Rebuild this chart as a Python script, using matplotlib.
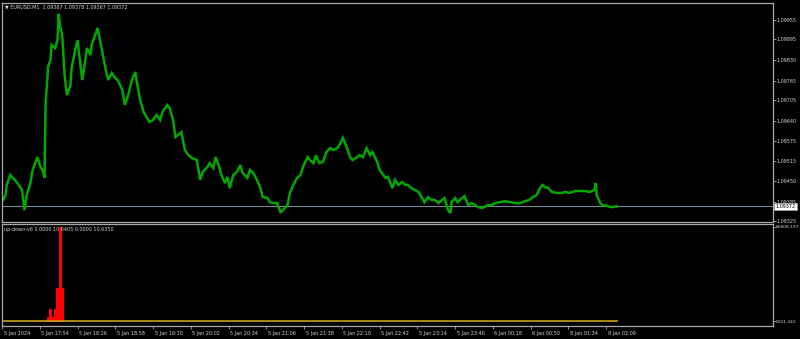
import matplotlib
matplotlib.use('Agg')
import matplotlib.pyplot as plt
import matplotlib.transforms as mtrans

# ---------------- data ----------------
symbol_title = "\u25BC EURUSD,M1  1.09367 1.09378 1.09367 1.09372"
indicator_title = "up-down-v6 0.0000 10.6405 0.0000 10.6350"

bars = [1, 3, 4, 7, 9, 11, 14, 17, 19, 21, 24, 26, 30, 32, 35, 36, 37, 38, 39, 41,
        42, 45, 47, 48, 49, 51, 53, 55, 58, 59, 62, 64, 66, 68, 70, 72, 75, 76, 79, 81,
        83, 86, 88, 90, 93, 96, 98, 102, 104, 107, 110, 113, 114, 117, 120, 123, 125, 128, 131, 134,
        136, 140, 142, 145, 147, 149, 152, 155, 158, 161, 165, 168, 170, 174, 176, 179, 181, 183, 186, 189,
        191, 193, 196, 199, 202, 204, 208, 210, 213, 216, 219, 221, 225, 227, 230, 233, 236, 238, 242, 244,
        247, 250, 253, 255, 259, 261, 264, 266, 269, 272, 275, 278, 281, 284, 286, 289, 292, 295, 297, 301,
        303, 306, 309, 312, 314, 318, 320, 325, 327, 331, 333, 336, 339, 342, 344, 347, 350, 353, 356, 358,
        361, 364, 367, 370, 373, 375, 378, 380, 381, 384, 386, 390, 392, 395, 398, 401, 403, 407, 409, 412,
        415, 418, 422, 426, 431, 435, 439, 443, 447, 450, 453, 456, 458, 460, 463, 466, 470, 475, 477, 481,
        486, 490, 494, 498, 502, 503, 504, 507, 509, 513, 515, 518, 521]

close = [1.09392, 1.09407, 1.09439, 1.09470, 1.09461, 1.09455, 1.09439, 1.09423, 1.09360, 1.09407,
         1.09445, 1.09486, 1.09526, 1.09501, 1.09479, 1.09461, 1.09705, 1.09745, 1.09808, 1.09830,
         1.09877, 1.09867, 1.09892, 1.09974, 1.09939, 1.09908, 1.09783, 1.09720, 1.09751, 1.09805,
         1.09861, 1.09892, 1.09830, 1.09767, 1.09814, 1.09867, 1.09845, 1.09877, 1.09908, 1.09930,
         1.09892, 1.09836, 1.09798, 1.09767, 1.09789, 1.09773, 1.09767, 1.09736, 1.09689, 1.09720,
         1.09767, 1.09792, 1.09767, 1.09705, 1.09667, 1.09648, 1.09636, 1.09642, 1.09658, 1.09642,
         1.09667, 1.09689, 1.09680, 1.09642, 1.09589, 1.09595, 1.09604, 1.09548, 1.09532, 1.09523,
         1.09517, 1.09455, 1.09479, 1.09495, 1.09507, 1.09492, 1.09526, 1.09507, 1.09470, 1.09445,
         1.09464, 1.09429, 1.09470, 1.09479, 1.09501, 1.09476, 1.09461, 1.09486, 1.09476, 1.09455,
         1.09429, 1.09401, 1.09398, 1.09385, 1.09382, 1.09382, 1.09354, 1.09360, 1.09376, 1.09414,
         1.09439, 1.09461, 1.09470, 1.09495, 1.09526, 1.09517, 1.09507, 1.09532, 1.09507, 1.09511,
         1.09542, 1.09554, 1.09548, 1.09554, 1.09564, 1.09586, 1.09558, 1.09526, 1.09517, 1.09526,
         1.09532, 1.09526, 1.09554, 1.09532, 1.09542, 1.09511, 1.09486, 1.09461, 1.09464, 1.09429,
         1.09455, 1.09439, 1.09448, 1.09439, 1.09439, 1.09429, 1.09423, 1.09417, 1.09398, 1.09385,
         1.09401, 1.09392, 1.09392, 1.09382, 1.09392, 1.09398, 1.09360, 1.09351, 1.09385, 1.09398,
         1.09385, 1.09398, 1.09404, 1.09376, 1.09382, 1.09376, 1.09370, 1.09367, 1.09370, 1.09376,
         1.09376, 1.09382, 1.09385, 1.09388, 1.09385, 1.09382, 1.09382, 1.09388, 1.09392, 1.09401,
         1.09407, 1.09429, 1.09439, 1.09433, 1.09429, 1.09417, 1.09414, 1.09414, 1.09417, 1.09414,
         1.09420, 1.09420, 1.09420, 1.09417, 1.09423, 1.09445, 1.09407, 1.09382, 1.09376, 1.09373,
         1.09370, 1.09370, 1.09372]

price_ticks = [1.09955, 1.09895, 1.09830, 1.09765, 1.09705, 1.09640,
               1.09575, 1.09515, 1.09450, 1.09385, 1.09325]
price_tick_labels = ["1.09955", "1.09895", "1.09830", "1.09765", "1.09705", "1.09640",
                     "1.09575", "1.09515", "1.09450", "1.09385", "1.09325"]
current_price = 1.09372
current_price_label = "1.09372"

hist_bars = [39, 40, 41, 42, 43, 44, 45, 46, 47, 48, 49, 50, 51]
hist_vals = [3050, 3050, 8530, 3050, 3050, 3050, 8530, 3050,
             23650, 23650, 66808.197, 23650, 23650]
level_bars = [0, 521]
level_vals = [0, 0]
ind_ticks = [66808.197, 0]
ind_tick_labels = ["66808.197", "0001.342"]

time_tick_bars = [0, 32, 64, 96, 128, 160, 192, 224, 256, 288, 320,
                  352, 384, 416, 448, 480, 512]
time_tick_labels = ["5 Jan 2024", "5 Jan 17:54", "5 Jan 18:26", "5 Jan 18:58",
                    "5 Jan 19:30", "5 Jan 20:02", "5 Jan 20:34", "5 Jan 21:06",
                    "5 Jan 21:38", "5 Jan 22:10", "5 Jan 22:42", "5 Jan 23:14",
                    "5 Jan 23:46", "6 Jan 00:18", "6 Jan 00:50", "8 Jan 01:34",
                    "8 Jan 02:09"]

# ---------------- style ----------------
W, H = 800, 339
BG = '#000000'
FRAME = '#a8a8a8'
TXT = '#d4d4d4'
GREEN = '#00a800'
FS = 3.5
plt.rcParams['font.family'] = ['DejaVu Sans']

fig = plt.figure(figsize=(W / 100, H / 100), dpi=100, facecolor=BG)

def frac(x0, y0, x1, y1):
    return [x0 / W, 1 - y1 / H, (x1 - x0) / W, (y1 - y0) / H]

ax1 = fig.add_axes(frac(2, 3, 773, 222))
ax2 = fig.add_axes(frac(2, 224, 773, 326), sharex=ax1)

for ax in (ax1, ax2):
    ax.set_facecolor(BG)
    for s in ax.spines.values():
        s.set_color(FRAME)
        s.set_linewidth(0.9)
    ax.yaxis.tick_right()
    ax.tick_params(axis='y', direction='out', length=2.0, width=0.6, color=FRAME,
                   labelsize=FS, labelcolor=TXT, pad=0.8)

# main price pane
ax1.plot(bars, close, color=GREEN, lw=1.8, solid_joinstyle='miter')
ax1.axhline(current_price, color='#778899', lw=0.8, zorder=1)
ax1.set_xlim(0, 653.4)
ax1.set_ylim(1.09323, 1.10008)
ax1.set_yticks(price_ticks)
ax1.set_yticklabels(price_tick_labels)
ax1.tick_params(axis='x', which='both', bottom=False, labelbottom=False)
ax1.text(1.003, current_price, current_price_label, transform=ax1.get_yaxis_transform(),
         fontsize=FS, color='#000000', va='center', ha='left', zorder=10, clip_on=False,
         bbox=dict(boxstyle='square,pad=0.25', facecolor='#ffffff', edgecolor='#a0a0a0', lw=0.5))
ax1.text(3 / 771, 1 - 3.5 / 219, symbol_title, transform=ax1.transAxes, fontsize=FS,
         color=TXT, va='center', ha='left')

# indicator pane (histogram drawn as 1-px vertical strokes like the terminal does)
ax2.vlines(hist_bars, 0, hist_vals, colors='#ff0000', linewidth=0.9, antialiased=False)
ax2.plot(level_bars, level_vals, color='#c8a010', lw=1.2)
ax2.set_ylim(-3553, 68940)
ax2.set_yticks(ind_ticks)
ax2.set_yticklabels(ind_tick_labels)
ax2.tick_params(axis='y', pad=0.3)
for lbl in ax2.get_yticklabels():
    lbl.set_fontsize(3.2)
ax2.set_xticks(time_tick_bars)
ax2.set_xticklabels(time_tick_labels)
ax2.tick_params(axis='x', direction='out', length=2.0, width=0.6, color=FRAME,
                labelsize=FS, labelcolor=TXT, pad=1.5)
shift = mtrans.ScaledTranslation(1.5 / 100, 0, fig.dpi_scale_trans)
for lbl in ax2.get_xticklabels():
    lbl.set_horizontalalignment('left')
    lbl.set_transform(lbl.get_transform() + shift)
ax2.text(2 / 771, 1 - 6 / 102, indicator_title, transform=ax2.transAxes, fontsize=FS,
         color=TXT, va='center', ha='left')

fig.savefig('out.png', dpi=100, facecolor=BG)
